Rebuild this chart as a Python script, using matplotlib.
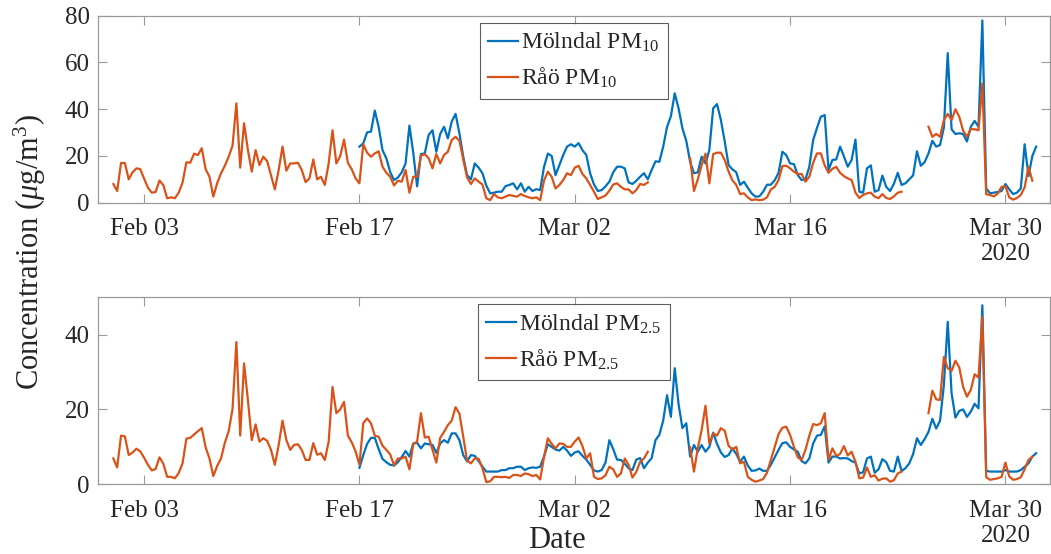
import numpy as np
import pandas as pd
import matplotlib
matplotlib.use("Agg")
import matplotlib.pyplot as plt

nan = np.nan

# ---------------- data (6-hourly values) ----------------
rao_start = "2020-02-01 00:00"
mol_start = "2020-02-17 00:00"

rao_pm10 = [
    8, 5, 17, 17,   10, 13, 14.7, 14.4,   10.3, 6.4, 4.3, 4.6,   9.5, 7.5, 1.9, 2.3,
    1.9, 4.3, 8.6, 17.3,   17.1, 21, 20.4, 23.3,   14.4, 11.1, 2.6, 8.3,   12.6, 15.8, 19.7, 24.4,
    42.5, 15, 34, 22.5,   13.3, 22.5, 16.1, 19.7,   17.8, 11.8, 5.7, 14,   24, 13.7, 16.8, 16.8,
    17.1, 14, 8.8, 10.4,   18.5, 10, 11.1, 7.6,   16.8, 31, 16.8, 20,   27, 17.1, 14.3, 10.4,
    8.3, 25, 21.4, 19.7,   21.1, 22, 15.4, 12.8,   11.1, 7.4, 9.4, 9,   14, 4.3, 11.1, 11.1,
    20.1, 20.8, 19, 14.7,   20.8, 16.8, 20.4, 21.8,   26.8, 28.2, 26.5, 18.5,   10.8, 8, 10.4, 9,
    7.8, 1.9, 1.1, 3.7,   2.3, 1.9, 2.6, 3.3,   2.9, 2.6, 3.7, 2.9,   2.3, 1.9, 2.3, 1.1,
    9.4, 13.3, 11.1, 6.1,   7.6, 9.7, 12.6, 11.8,   15, 15.8, 12.3, 10.4,   7.6, 4.7, 1.6, 2.3,
    3.1, 5.1, 7.8, 8.3,   6.8, 5.7, 5.7, 4,   5.4, 8, 7.6, 8.7,   nan, nan, nan, nan,
    nan, nan, nan, nan,   nan, nan, 19, 5,   10, 16, 21, 8.3,   20.8, 21.4, 21.4, 18.3,
    13.3, 9.6, 7.6, 3.7,   4, 2.3, 1.1, 1.4,   1.1, 1.3, 2.3, 5.7,   6.8, 9.7, 15.7, 15.8,
    14.7, 13.3, 12.3, 12.3,   9, 11.1, 17.1, 21.1,   21.1, 16, 12.8, 14.5,   15.4, 12.8, 11.4, 10.4,
    9.7, 4.3, 2, 3.3,   4, 4.3, 2.6, 1.9,   3.7, 2, 1.6, 2.7,   4.3, 4.7, nan, nan,
    nan, nan, nan, nan,   32.5, 28.2, 29.4, 28.2,   35.4, 38, 35.4, 40,   36.8, 30.8, 28.2, 31.5,
    31.4, 31, 51, 3.6,   3.3, 2.7, 3.9, 6.8,   7, 2.3, 1.3, 2,   3.3, 6.6, 15.4, 9.4,
]

mol_pm10 = [
    24, 25.4, 30.1, 30.4,   39.4, 32.5, 22.5, 19,   13.1, 9.7, 10.8, 13,   16.8, 33, 21.4, 7,
    20.8, 21.1, 29, 31,   21.8, 29.4, 32.5, 27.5,   34.7, 38, 29.7, 19.7,   11.8, 10, 16.8, 15,
    12.6, 7.3, 4, 4.3,   4.7, 4.7, 7.1, 7.6,   8.3, 5.7, 8.3, 4.7,   6.8, 5, 5.8, 5.4,
    15.3, 21, 20, 11.8,   16.1, 20.4, 24, 25,   24, 25.5, 22.5, 20.4,   12.6, 7.8, 5, 5.4,
    7, 9, 13, 15.4,   15.4, 14.7, 8.7, 8,   9.4, 11.1, 12.6, 10,   14, 17.7, 17.5, 24,
    32.4, 37, 46.8, 40.4,   31.8, 26.5, 17.5, 12.6,   13, 19.7, 16.8, 22.5,   40.4, 42.2, 35.4, 26.2,
    16.1, 14.3, 13, 7.6,   9, 6.4, 4, 2.6,   2.7, 4.7, 7.7, 7.7,   9.6, 12.8, 21.8, 20.4,
    16.8, 16.5, 11.8, 9.7,   10, 15.4, 26.8, 32,   36.8, 37.5, 14, 18.3,   18.5, 24, 19.8, 15.4,
    18.3, 27, 4.7, 4.3,   14.7, 16, 4.7, 5.4,   11.6, 6.8, 5, 8.1,   12.8, 7.6, 8.3, 10,
    11.7, 22, 15.8, 17.4,   21.1, 26.5, 24, 24.7,   32.2, 64, 31.4, 29.4,   29.7, 29.4, 26.2, 32.5,
    35, 32.5, 78, 6.1,   4, 4.3, 4.6, 5,   8, 5.7, 3.7, 4.3,   6.1, 25, 11.4, 20,
    24,
]

rao_pm25 = [
    6.9, 4.5, 13, 12.8,   7.8, 8.5, 9.5, 8.8,   7.1, 5.2, 3.7, 4.1,   7.2, 5.5, 2, 2,
    1.6, 3, 5.6, 12.2,   12.4, 13.3, 14.2, 15,   9.9, 6.9, 2.2, 4.9,   6.9, 11.1, 14.2, 20.1,
    38, 13, 32.3, 22.5,   11.8, 16, 11.4, 12.3,   11.6, 9.2, 5.2, 10.5,   17, 11.8, 9.2, 10.5,
    10.7, 9.2, 6.5, 6.5,   11, 7.9, 8.3, 6.5,   11.4, 26, 19, 20,   22, 13, 11.2, 8.8,
    5.2, 16.3, 17.6, 16.3,   13, 12.7, 10.3, 9.2,   8, 5.1, 6.9, 6.9,   7.4, 4, 10.7, 11.4,
    19, 12.5, 12.7, 9.2,   5.8, 12.4, 14, 15.8,   17, 20.6, 18.9, 12.7,   6.3, 5.6, 6.9, 6.8,
    4.3, 0.6, 0.8, 2,   2, 1.9, 2, 1.7,   2.5, 2.5, 2.2, 2.9,   2.7, 2.2, 2.5, 1.3,
    7.2, 12.3, 10.8, 9.6,   10.9, 10.8, 10, 10,   11.4, 12.5, 10.2, 6.9,   8.3, 2, 1.4, 1.6,
    2.4, 4.7, 4, 2,   2.9, 6.9, 5.2, 1.8,   3.3, 6, 6.9, 8.7,   nan, nan, nan, nan,
    nan, nan, nan, nan,   nan, nan, 9.9, 3.4,   9.6, 14.5, 21, 10.9,   13.6, 13, 15, 14.3,
    10.3, 9.3, 10, 5.6,   6, 2, 1.2, 0.7,   1, 1.4, 3.1, 6.5,   9.8, 13.4, 15.1, 15.4,
    13.2, 10, 7.2, 6.5,   9.2, 13, 16.1, 15.8,   16.3, 19, 6.5, 9.6,   7.6, 8.1, 10.2, 7.7,
    8.7, 6, 1.6, 1.8,   4.5, 2, 2.4, 1,   1.5, 1.6, 0.7, 1.1,   2.9, 3.4, nan, nan,
    nan, nan, nan, nan,   19, 25, 22.7, 22.5,   34, 31, 30.3, 33,   31.2, 26, 23.4, 25.2,
    29.4, 28.5, 44.7, 1.9,   1.2, 1.4, 1.6, 2,   5.8, 2.1, 1.2, 1.4,   1.9, 4, 6.5, 7.4,
]

mol_pm25 = [
    4.4, 7.8, 10.8, 12.4,   12.4, 9.4, 6.8, 5.9,   5.2, 5, 5.9, 7.3,   8.9, 7.4, 10.9, 11.1,
    9.6, 10.9, 10.7, 10.5,   8.4, 10.9, 11.8, 11.1,   13.6, 13.6, 11.8, 7.8,   6.1, 7.8, 7.6, 6.2,
    4.7, 3.4, 3.4, 3.4,   3.4, 3.8, 3.8, 4.3,   4.3, 4.7, 4.7, 3.8,   4.3, 4.5, 4.4, 4.7,
    7.4, 10.7, 10, 9.3,   9, 10, 9, 7.6,   8.5, 8.8, 7.6, 6.6,   5.2, 3.7, 3.4, 3.8,
    5.8, 11.8, 9.4, 6.6,   6.5, 5.5, 4.3, 3.8,   6.6, 7, 4.3, 5.8,   7, 11.8, 13.2, 17,
    23.8, 18, 31, 21.4,   15, 16.3, 7.4, 10.5,   8.7, 10.5, 8.7, 10,   13.8, 10.8, 8.5, 7.3,
    7.8, 9.6, 8.1, 6,   7.4, 5, 3.6, 3.7,   4.2, 3.6, 3.6, 5.2,   7.2, 9.2, 11, 11.2,
    10, 9.3, 8.7, 6.2,   5.6, 6.9, 10.9, 13,   13.2, 15.5, 5.8, 7.4,   7.4, 6.9, 7, 6.9,
    6.2, 5.8, 2.9, 3.2,   6.9, 7.4, 3.1, 4,   6.7, 5.9, 3.6, 3.4,   7.4, 3.5, 4.3, 5.6,
    8.1, 12.3, 10.5, 12.1,   14, 17.5, 14.9, 17,   26.5, 43.4, 24.3, 17.8,   19.6, 20, 18, 19.4,
    21.5, 20.3, 47.8, 3.6,   3.4, 3.4, 3.4, 3.4,   3.8, 3.4, 3.4, 3.4,   3.8, 4.7, 5.6, 7.4,
    8.3,
]

tick_dates = ["2020-02-03", "2020-02-17", "2020-03-02", "2020-03-16", "2020-03-30"]
tick_labels = ["Feb 03", "Feb 17", "Mar 02", "Mar 16", "Mar 30\n2020"]
x_range = ["2020-01-31 00:00", "2020-04-01 21:00"]

labels_top = ["Mölndal PM$_{10}$", "Råö PM$_{10}$"]
labels_bot = ["Mölndal PM$_{2.5}$", "Råö PM$_{2.5}$"]
yticks_top = [0, 20, 40, 60, 80]
yticks_bot = [0, 20, 40]

# ---------------- style ----------------
plt.rcParams["font.family"] = ["Liberation Serif", "DejaVu Serif"]
plt.rcParams["mathtext.fontset"] = "custom"
plt.rcParams["mathtext.rm"] = "Liberation Serif"
plt.rcParams["mathtext.it"] = "Liberation Serif:italic"
plt.rcParams["mathtext.bf"] = "Liberation Serif:bold"

BLUE = "#0072BD"
ORANGE = "#D95319"
SPINE = "#9a9a9a"
TXT = "#262626"

t_rao = pd.date_range(rao_start, periods=len(rao_pm10), freq="6h")
t_mol = pd.date_range(mol_start, periods=len(mol_pm10), freq="6h")

fig = plt.figure(figsize=(10.51, 5.54), dpi=100)
ax1 = fig.add_axes([0.0932, 0.6341, 0.9055, 0.3375])
ax2 = fig.add_axes([0.0932, 0.1258, 0.9055, 0.3380])


def style(ax, yticks, ymax):
    ax.set_xlim(pd.Timestamp(x_range[0]), pd.Timestamp(x_range[1]))
    ax.set_ylim(0, ymax)
    ax.set_yticks(yticks)
    ax.set_xticks([pd.Timestamp(d) for d in tick_dates])
    ax.set_xticklabels(tick_labels)
    ax.tick_params(axis="both", direction="in", length=6.5, width=0.8,
                   color=SPINE, labelcolor=TXT, labelsize=18,
                   top=True, right=True)
    ax.tick_params(axis="x", pad=11)
    ax.tick_params(axis="y", pad=6)
    for s in ax.spines.values():
        s.set_color(SPINE)
        s.set_linewidth(0.9)


ax1.plot(t_mol, mol_pm10, color=BLUE, lw=1.6, label=labels_top[0])
ax1.plot(t_rao, rao_pm10, color=ORANGE, lw=1.6, label=labels_top[1])
style(ax1, yticks_top, 80)

ax2.plot(t_mol, mol_pm25, color=BLUE, lw=1.6, label=labels_bot[0])
ax2.plot(t_rao, rao_pm25, color=ORANGE, lw=1.6, label=labels_bot[1])
style(ax2, yticks_bot, 50)

for ax in (ax1, ax2):
    leg = ax.legend(loc="upper center", fontsize=17, frameon=True, fancybox=False,
                    borderaxespad=0.3, handlelength=1.25, handletextpad=0.15,
                    borderpad=0.35, labelspacing=0.5)
    leg.get_frame().set_edgecolor("#333333")
    leg.get_frame().set_linewidth(0.8)
    for t in leg.get_texts():
        t.set_color(TXT)

fig.text(30 / 1051, 1 - 252 / 554, "Concentration ($\\mu$g/m$^3$)", rotation=90,
         ha="center", va="center", fontsize=22, color=TXT)
fig.text(557 / 1051, 1 - 540 / 554, "Date", ha="center", va="center",
         fontsize=22, color=TXT)

fig.savefig("out.png", dpi=100)
